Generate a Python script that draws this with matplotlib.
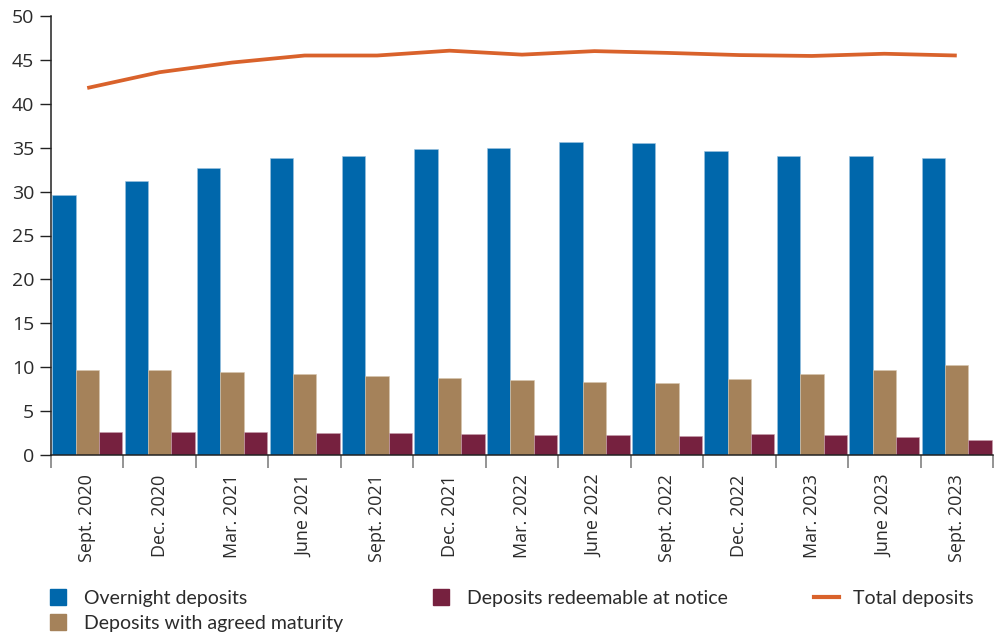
"""Household deposits by type, quarterly, Sept. 2020 - Sept. 2023"""

import matplotlib.pyplot as plt
from matplotlib.lines import Line2D
import numpy as np

quarters = ['Sept. 2020', 'Dec. 2020', 'Mar. 2021', 'June 2021', 'Sept. 2021',
            'Dec. 2021', 'Mar. 2022', 'June 2022', 'Sept. 2022', 'Dec. 2022',
            'Mar. 2023', 'June 2023', 'Sept. 2023']

overnight = [29.6, 31.2, 32.7, 33.8, 34.05, 34.9, 34.97, 35.6, 35.55, 34.6, 34.1, 34.1, 33.8]
agreed_maturity = [9.68, 9.68, 9.45, 9.26, 9.0, 8.8, 8.54, 8.31, 8.2, 8.65, 9.19, 9.68, 10.2]
redeemable = [2.66, 2.66, 2.66, 2.54, 2.45, 2.4, 2.28, 2.24, 2.13, 2.43, 2.28, 2.05, 1.71]
total = [41.8, 43.6, 44.7, 45.5, 45.5, 46.05, 45.6, 46.0, 45.8, 45.55, 45.45, 45.7, 45.5]

BLUE = '#0067ab'
TAN = '#a5825a'
MAROON = '#76213f'
ORANGE = '#d9622b'
TEXT = '#2b2b2b'

fig = plt.figure(figsize=(10.01, 6.34), dpi=100)
ax = fig.add_axes([51 / 1001, 179 / 634, 942 / 1001, 439 / 634])

x = np.arange(len(quarters))
w = 0.323
ax.bar(x - w, overnight, w, color=BLUE, edgecolor='#9cc3df', linewidth=0.4)
ax.bar(x, agreed_maturity, w, color=TAN, edgecolor='#d8c6ae', linewidth=0.4)
ax.bar(x + w, redeemable, w, color=MAROON, edgecolor='#c8a0ae', linewidth=0.4)
ax.plot(x, total, color=ORANGE, linewidth=2.7, solid_capstyle='butt')

ax.set_xlim(-0.5, len(quarters) - 0.5)
ax.set_ylim(0, 50)
ax.set_yticks(np.arange(0, 51, 5))

# labels sit in the middle of each group, tick marks on the group boundaries
ax.set_xticks(x)
ax.set_xticklabels(quarters, rotation=90, fontfamily='Open Sans', fontsize=13, color=TEXT)
ax.tick_params(axis='x', which='major', length=0, pad=14)
ax.set_xticks(np.arange(-0.5, len(quarters)), minor=True)
ax.tick_params(axis='x', which='minor', length=9, width=1.1, color='#777777')
ax.tick_params(axis='y', length=8, width=1, color='#222222', pad=4)
for lab in ax.get_yticklabels():
    lab.set_fontfamily('Open Sans')
    lab.set_fontsize(14)
    lab.set_color(TEXT)

for side in ('top', 'right'):
    ax.spines[side].set_visible(False)
for side in ('left', 'bottom'):
    ax.spines[side].set_color('#222222')
    ax.spines[side].set_linewidth(1.1)

handles = [
    Line2D([], [], marker='s', linestyle='none', markersize=11.5, color=BLUE),
    Line2D([], [], marker='s', linestyle='none', markersize=11.5, color=TAN),
    Line2D([], [], marker='s', linestyle='none', markersize=11.5, color=MAROON),
    Line2D([], [], color=ORANGE, linewidth=3),
]
labels = ['Overnight deposits', 'Deposits with agreed maturity',
          'Deposits redeemable at notice', 'Total deposits']
fig.legend(handles, labels, ncol=3, loc='upper left', bbox_to_anchor=(45 / 1001, 1 - 590 / 634),
           frameon=False, prop={'family': 'Lato', 'size': 14}, labelcolor=TEXT,
           handlelength=1.3, handletextpad=0.7, columnspacing=4.4,
           labelspacing=0.42, borderpad=0, borderaxespad=0)

fig.savefig('out.png', dpi=100)
